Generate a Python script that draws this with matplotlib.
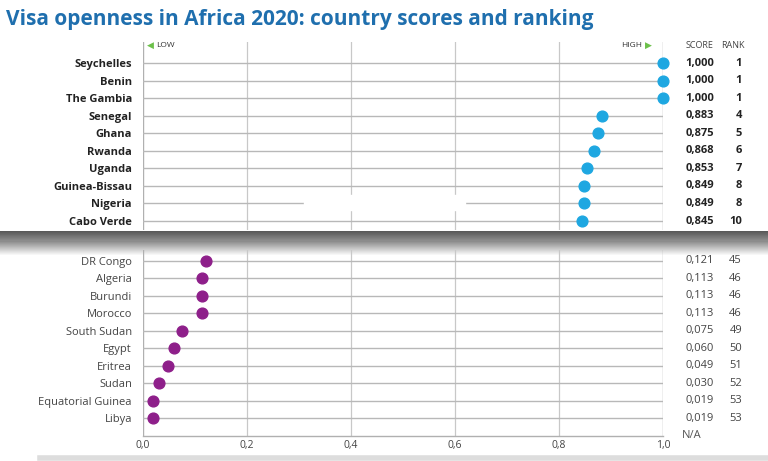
import matplotlib
matplotlib.use("Agg")
import matplotlib.pyplot as plt
import numpy as np

top_countries = ["Seychelles","Benin","The Gambia","Senegal","Ghana","Rwanda","Uganda","Guinea-Bissau","Nigeria","Cabo Verde"]
top_scores = [1.000,1.000,1.000,0.883,0.875,0.868,0.853,0.849,0.849,0.845]
top_ranks = [1,1,1,4,5,6,7,8,8,10]
bot_countries = ["DR Congo","Algeria","Burundi","Morocco","South Sudan","Egypt","Eritrea","Sudan","Equatorial Guinea","Libya"]
bot_scores = [0.121,0.113,0.113,0.113,0.075,0.060,0.049,0.030,0.019,0.019]
bot_ranks = [45,46,46,46,49,50,51,52,53,53]
xticks = [0.0,0.2,0.4,0.6,0.8,1.0]

plt.rcParams['font.family'] = ['Open Sans','DejaVu Sans']
W,H = 768,461
fig = plt.figure(figsize=(W/100,H/100), dpi=100)

def ax_rect(x0,x1,y0,y1):
    return [x0/W, 1-y1/H, (x1-x0)/W, (y1-y0)/H]

def fmt(v): return f"{v:.3f}".replace(".",",")

# shadow band
sh = fig.add_axes(ax_rect(0,768,231,256)); sh.axis('off')
g = np.concatenate([np.linspace(0.35,0.55,10), np.linspace(0.55,1.0,15)])
sh.imshow(g[:,None], aspect='auto', cmap='gray', vmin=0, vmax=1, extent=[0,1,0,1])
sh.set_xlim(0,1)

SX, RX = 1.071, 1.152

def panel(rect, names, scores, ranks, color, ylim, bold, tcolor):
    ax = fig.add_axes(rect)
    ax.set_xlim(0,1); ax.set_ylim(*ylim)
    for s in ax.spines.values(): s.set_visible(False)
    ax.set_facecolor('none')
    y = np.arange(len(names))
    for yy in y:
        ax.plot([0,1],[yy,yy], color='#b8b8b8', lw=1.0, zorder=1)
    for xv in xticks[1:-1]:
        ax.axvline(xv, color='#c8c8c8', lw=0.9, zorder=0)
    ax.axvline(0, color='#b0b0b0', lw=1, zorder=0)
    ax.axvline(1, color='#b0b0b0', lw=1, zorder=0)
    ax.scatter(scores, y, s=60, color=color, zorder=3, clip_on=False)
    ax.set_yticks(y); ax.set_yticklabels(names, fontweight='bold' if bold else 'normal', color=tcolor, fontsize=8)
    ax.tick_params(axis='y', length=0, pad=8)
    w = 'bold' if bold else 'normal'
    for yy,s,r in zip(y,scores,ranks):
        ax.text(SX, yy, fmt(s), va='center', ha='center', fontsize=8, color=tcolor, fontweight=w, transform=ax.get_yaxis_transform())
        ax.text(RX, yy, str(r), va='center', ha='right', fontsize=8, color=tcolor, fontweight=w, transform=ax.get_yaxis_transform())
    return ax

ax1 = panel(ax_rect(143,663,42,230), top_countries, top_scores, top_ranks, '#1ea7e1', (9.51,-1.2), True, '#222222')
ax1.set_xticks([])
ax1.text(0.008,-1.0,"◀", color='#6cc04a', fontsize=6.5, va='center', ha='left', family=['DejaVu Sans'])
ax1.text(0.026,-1.0,"LOW", color='#333333', fontsize=6, va='center', ha='left')
ax1.text(0.96,-1.0,"HIGH", color='#333333', fontsize=6, va='center', ha='right')
ax1.text(0.965,-1.0,"▶", color='#6cc04a', fontsize=6.5, va='center', ha='left', family=['DejaVu Sans'])
ax1.text(SX,-1.0,"SCORE", color='#444444', fontsize=6.5, va='center', ha='center', transform=ax1.get_yaxis_transform())
ax1.text(RX+0.005,-1.0,"RANK", color='#444444', fontsize=6.5, va='center', ha='right', transform=ax1.get_yaxis_transform())
ax1.add_patch(plt.Rectangle((0.31,7.5),0.31,0.85, color='white', zorder=4))

ax2 = panel(ax_rect(143,663,250,436), bot_countries, bot_scores, bot_ranks, '#8e1f8a', (10.03,-0.63), False, '#444444')
ax2.set_xticks(xticks); ax2.set_xticklabels([f"{v:.1f}".replace(".",",") for v in xticks], fontsize=7.5, color='#444444')
ax2.tick_params(axis='x', length=0, pad=3)
ax2.plot([0,1],[10.03,10.03], color='#b0b0b0', lw=1, clip_on=False)
ax2.text(SX-0.016, 10.0, "N/A", va='center', ha='center', fontsize=8, color='#555555', transform=ax2.get_yaxis_transform())

fig.text(6/W, 1-20/H, "Visa openness in Africa 2020: country scores and ranking", color='#1f6fae', fontsize=15, fontweight='bold', va='center', ha='left', family=['Open Sans','DejaVu Sans'])
fig.add_artist(plt.Line2D([40/W,768/W],[1-458/H,1-458/H], color='#dddddd', lw=4))
fig.savefig("out.png", dpi=100)
